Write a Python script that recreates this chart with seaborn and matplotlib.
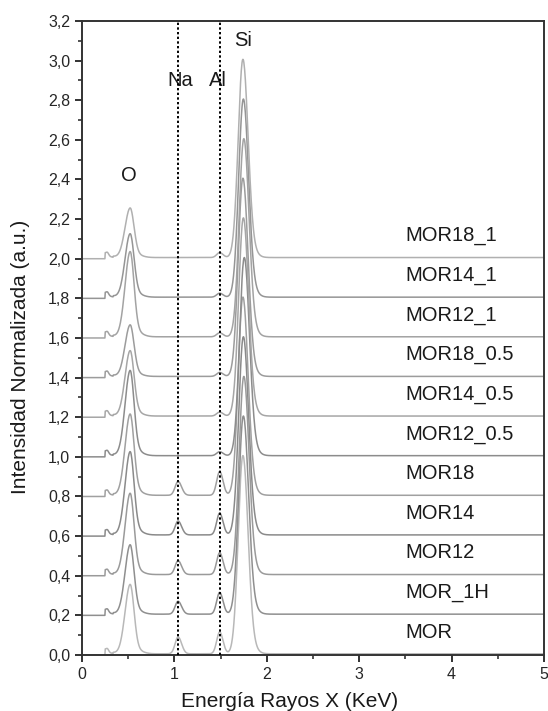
import numpy as np
import pandas as pd
import matplotlib
matplotlib.use("Agg")
import matplotlib.pyplot as plt
from matplotlib.ticker import MultipleLocator, FuncFormatter
import seaborn as sns

# Samples, stacked from bottom to top with a vertical offset of 0.2
samples = ["MOR", "MOR_1H", "MOR12", "MOR14", "MOR18",
           "MOR12_0.5", "MOR14_0.5", "MOR18_0.5",
           "MOR12_1", "MOR14_1", "MOR18_1"]
offsets = [0.0, 0.2, 0.4, 0.6, 0.8, 1.0, 1.2, 1.4, 1.6, 1.8, 2.0]

# Normalised peak intensities (Si Ka = 1)
o_peak = [0.35, 0.35, 0.41, 0.42, 0.41, 0.43, 0.33, 0.26, 0.43, 0.32, 0.25]
na_peak = [0.085, 0.065, 0.07, 0.07, 0.07, 0.0, 0.0, 0.0, 0.0, 0.0, 0.0]
al_peak = [0.11, 0.11, 0.11, 0.11, 0.12, 0.02, 0.02, 0.02, 0.02, 0.02, 0.025]
si_peak = [1.0] * 11
si_pos = [1.74, 1.745, 1.75, 1.745, 1.74, 1.755, 1.745, 1.74, 1.75, 1.745, 1.74]
line_colors = ["#b8b8b8", "#8f8f8f", "#9a9a9a", "#8a8a8a", "#a0a0a0",
               "#8c8c8c", "#a6a6a6", "#9c9c9c", "#a3a3a3", "#959595", "#b0b0b0"]

# Emission line energies (keV)
e_O, e_Na, e_Al = 0.52, 1.04, 1.49
marker_lines = [1.04, 1.49]

energy = np.round(np.arange(0.0, 5.0001, 0.004), 4)


def gauss(x, c, s):
    return np.exp(-0.5 * ((x - c) / s) ** 2)


def split_gauss(x, c, sl, sr):
    s = np.where(x < c, sl, sr)
    return np.exp(-0.5 * ((x - c) / s) ** 2)


def peak_with_tail(x, c, sl, sr, tail):
    """Line profile with a weak high-energy tail, scaled to unit apex."""
    p = split_gauss(x, c, sl, sr) + tail * split_gauss(x, c + 0.06, 0.05, 0.07)
    return p / p.max()


def spectrum(o, na, al, si, si_c):
    y = np.zeros_like(energy)
    m = energy >= 0.25
    y[m] += 0.028 * np.exp(-(energy[m] - 0.25) / 0.06) + 0.014 * gauss(energy[m], 0.275, 0.014)
    y[energy >= 0.34] += 0.006
    y += o * peak_with_tail(energy, e_O, 0.055, 0.042, 0.06)
    y += na * split_gauss(energy, e_Na, 0.032, 0.038)
    y += al * split_gauss(energy, e_Al, 0.032, 0.036)
    y += si * peak_with_tail(energy, si_c, 0.05, 0.055, 0.05)
    return y


frames = []
for name, off, o, na, al, si, sc in zip(samples, offsets, o_peak, na_peak,
                                         al_peak, si_peak, si_pos):
    frames.append(pd.DataFrame({"energy": energy,
                                "intensity": spectrum(o, na, al, si, sc) + off,
                                "sample": name}))
df = pd.concat(frames, ignore_index=True)

sns.set_style("white")
plt.rcParams["font.family"] = ["Liberation Sans", "DejaVu Sans"]

fig = plt.figure(figsize=(5.48, 7.11), dpi=100)
ax = fig.add_axes([0.1496, 0.0788, 0.8431, 0.8917])

sns.lineplot(data=df, x="energy", y="intensity", hue="sample",
             hue_order=samples, palette=dict(zip(samples, line_colors)),
             estimator=None, sort=False, linewidth=1.1, legend=False, ax=ax)

for xv in marker_lines:
    ax.axvline(xv, color="black", linestyle=(0, (1.2, 1.2)), linewidth=1.4, zorder=5)

for name, off in zip(samples, offsets):
    ax.text(3.5, off + 0.115, name, fontsize=14.5, ha="left", va="center", color="#1a1a1a")

ax.text(0.51, 2.42, "O", fontsize=14.5, ha="center", va="center", color="#1a1a1a")
ax.text(1.06, 2.90, "Na", fontsize=14.5, ha="center", va="center", color="#1a1a1a")
ax.text(1.47, 2.90, "Al", fontsize=14.5, ha="center", va="center", color="#1a1a1a")
ax.text(1.74, 3.10, "Si", fontsize=14.5, ha="center", va="center", color="#1a1a1a")

ax.set_xlim(0, 5)
ax.set_ylim(0, 3.2)
ax.xaxis.set_major_locator(MultipleLocator(1))
ax.xaxis.set_minor_locator(MultipleLocator(0.5))
ax.yaxis.set_major_locator(MultipleLocator(0.2))
ax.yaxis.set_minor_locator(MultipleLocator(0.1))
ax.yaxis.set_major_formatter(FuncFormatter(lambda v, p: f"{v:.1f}".replace(".", ",")))
ax.xaxis.set_major_formatter(FuncFormatter(lambda v, p: f"{v:.0f}"))

ax.tick_params(axis="both", which="major", direction="out", length=5, width=1.3,
               labelsize=11.5, color="#222222", bottom=True, left=True, top=False, right=False)
ax.tick_params(axis="both", which="minor", direction="out", length=3, width=1.1,
               color="#222222", bottom=True, left=True, top=False, right=False)

for side in ["left", "bottom", "top", "right"]:
    ax.spines[side].set_visible(True)
    ax.spines[side].set_color("#333333")
    ax.spines[side].set_linewidth(1.4)

ax.set_xlabel("Energía Rayos X (KeV)", fontsize=15, color="#1a1a1a")
ax.set_ylabel("Intensidad Normalizada (a.u.)", fontsize=15, color="#1a1a1a")
ax.xaxis.set_label_coords(0.45, -0.058)
ax.yaxis.set_label_coords(-0.112, 0.47)

fig.savefig("out.png", dpi=100)
